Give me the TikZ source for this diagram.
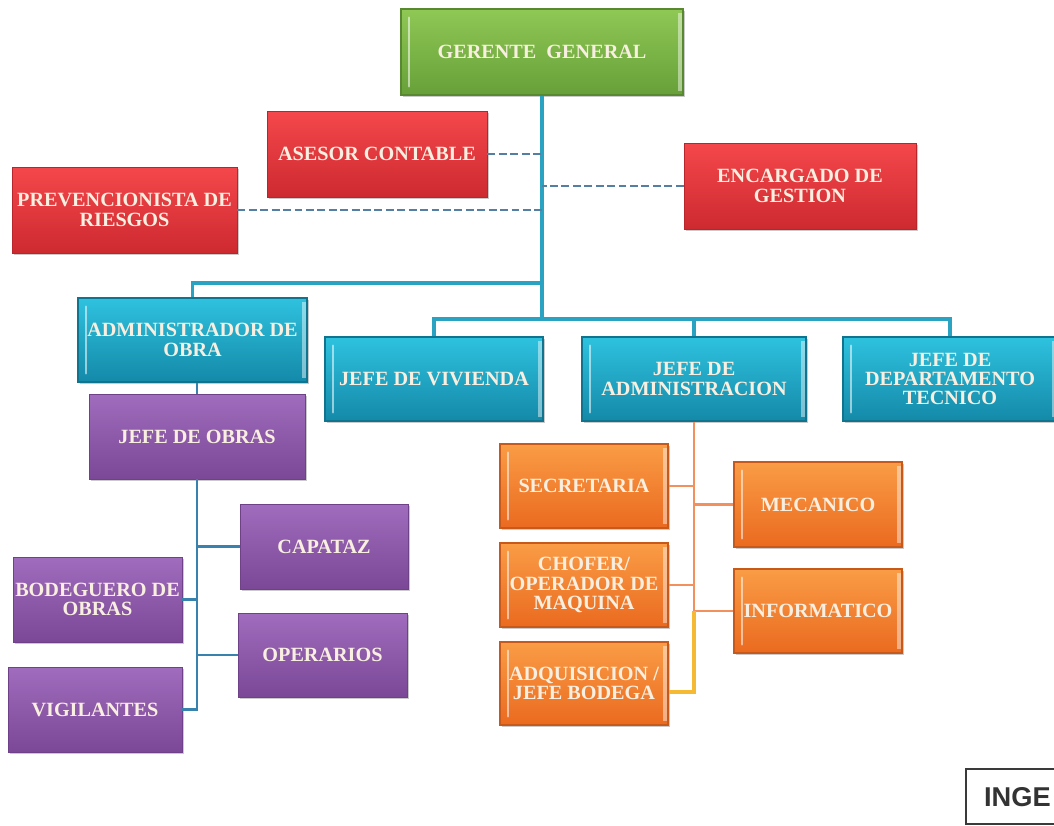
\documentclass[tikz,border=0pt]{standalone}
\usepackage{fontspec}
\setmainfont{Liberation Serif}
\setsansfont{Liberation Sans}
\usetikzlibrary{shadows}
\definecolor{gtop}{HTML}{8FC855}
\definecolor{gbot}{HTML}{67A038}
\definecolor{rtop}{HTML}{F4474B}
\definecolor{rbot}{HTML}{CD2A30}
\definecolor{ttop}{HTML}{2EC2DF}
\definecolor{tbot}{HTML}{1489A8}
\definecolor{ptop}{HTML}{A06CBD}
\definecolor{pbot}{HTML}{7A4897}
\definecolor{otop}{HTML}{FA9C46}
\definecolor{obot}{HTML}{EA6A20}
\definecolor{txt}{HTML}{F8EFE0}
\definecolor{lteal}{HTML}{2AA3C3}
\definecolor{dashc}{HTML}{557EA3}
\definecolor{pblue}{HTML}{3A82AE}
\definecolor{oline}{HTML}{F2905E}
\definecolor{yline}{HTML}{F6B934}
\definecolor{ingec}{HTML}{3A3A3A}
\definecolor{ingetxt}{HTML}{333333}
\begin{document}
\begin{tikzpicture}[x=0.02cm,y=-0.02cm,
  box/.style={rectangle, inner sep=1pt, align=center, text=txt,
    font=\bfseries\fontsize{11.5}{11}\selectfont,
    drop shadow={shadow xshift=1.3pt, shadow yshift=-1.3pt, opacity=0.35, fill=black!60}},
  sz/.style 2 args={minimum width={#1*0.02cm}, minimum height={#2*0.02cm}},
  bevel/.style={path picture={
    \draw[white, opacity=0.55, line width=1.6pt, line cap=round]
      ([xshift=4.5pt,yshift=-5pt]path picture bounding box.north west) --
      ([xshift=4.5pt,yshift=5pt]path picture bounding box.south west);
    \draw[white, opacity=0.45, line width=2pt]
      ([xshift=-1.8pt,yshift=-2pt]path picture bounding box.north east) --
      ([xshift=-1.8pt,yshift=2pt]path picture bounding box.south east);}},
  gbox/.style={box, top color=gtop, bottom color=gbot, draw=gbot!85!black, line width=0.6pt, bevel},
  rbox/.style={box, top color=rtop, bottom color=rbot, draw=rbot!90!black, line width=0.5pt},
  tbox/.style={box, top color=ttop, bottom color=tbot, draw=tbot!85!black, line width=0.6pt, bevel},
  pbox/.style={box, top color=ptop, bottom color=pbot, draw=pbot!90!black, line width=0.5pt},
  obox/.style={box, top color=otop, bottom color=obot, draw=obot!85!black, line width=0.6pt, bevel},
  conn/.style={draw=lteal, line width=1.8pt},
  trunkline/.style={draw=lteal, line width=2.4pt},
  dashline/.style={draw=dashc, line width=1.4pt, dash pattern=on 4.5pt off 2pt},
  pconn/.style={draw=pblue, line width=1.6pt},
  oconn/.style={draw=oline, line width=1.5pt},
  yconn/.style={draw=yline, line width=1.8pt},
  ingebox/.style={draw=ingec, line width=1.3pt, text=ingetxt,
    font=\sffamily\bfseries\fontsize{15.5}{16}\selectfont,
    minimum height={55*0.02cm}, inner xsep=0.36cm, text width=1.38cm, align=left}
]
\useasboundingbox (0,0) rectangle (1054,825);

% top level
\node[gbox, sz={282}{86}] (gg) at (542,52) {GERENTE\ \ GENERAL};
\node[rbox, sz={220}{86}] (ac) at (377,154) {ASESOR CONTABLE};
\node[rbox, sz={225}{86}] (pr) at (124.5,210) {PREVENCIONISTA DE\\RIESGOS};
\node[rbox, sz={232}{86}] (eg) at (800,186) {ENCARGADO DE\\GESTION};

% second level
\node[tbox, sz={229}{84}] (ado) at (192.5,340) {ADMINISTRADOR DE\\OBRA};
\node[tbox, sz={218}{84}] (jv) at (434,379) {JEFE DE VIVIENDA};
\node[tbox, sz={224}{84}] (ja) at (694,379) {JEFE DE\\ADMINISTRACION};
\node[tbox, sz={214}{84}] (jd) at (950,379) {JEFE DE\\DEPARTAMENTO\\TECNICO};

% obras branch
\node[pbox, sz={216}{85}] (jo) at (197,436.5) {JEFE DE OBRAS};
\node[pbox, sz={168}{85}] (cap) at (324,546.5) {CAPATAZ};
\node[pbox, sz={169}{85}] (bod) at (97.5,599.5) {BODEGUERO DE\\OBRAS};
\node[pbox, sz={169}{84}] (ope) at (322.5,655) {OPERARIOS};
\node[pbox, sz={174}{85}] (vig) at (95,709.5) {VIGILANTES};

% administracion branch
\node[obox, sz={168}{84}] (sec) at (584,486) {SECRETARIA};
\node[obox, sz={168}{84}] (cho) at (584,585) {CHOFER/\\OPERADOR DE\\MAQUINA};
\node[obox, sz={168}{83}] (adq) at (584,683.5) {ADQUISICION /\\JEFE BODEGA};
\node[obox, sz={168}{85}] (mec) at (818,504.5) {MECANICO};
\node[obox, sz={168}{84}] (inf) at (818,611) {INFORMATICO};

% stamp
\node[ingebox, anchor=north west] (inge) at (965,768) {INGE};

% connectors
\coordinate (tk) at (542,319);
\coordinate (ab) at (542,283);
\draw[trunkline] (gg.south) -- (tk);
\draw[conn] (ado.north) -- (ado.north |- ab) -- (ab);
\draw[conn] (jv.north) -- (jv.north |- tk) -- (jd.north |- tk) -- (jd.north);
\draw[conn] (ja.north) -- (ja.north |- tk);

\draw[dashline] (ac.east) -- (ac.east -| tk);
\draw[dashline] (pr.east) -- (pr.east -| tk);
\draw[dashline] (eg.west) -- (eg.west -| tk);

\draw[pconn] (jo.north |- ado.south) -- (jo.north);
\draw[pconn] (jo.south) -- (jo.south |- vig.east) -- (vig.east);
\draw[pconn] (jo.south |- cap.west) -- (cap.west);
\draw[pconn] (jo.south |- bod.east) -- (bod.east);
\draw[pconn] (jo.south |- ope.west) -- (ope.west);

\draw[oconn] (ja.south) -- (ja.south |- inf.west);
\draw[oconn] (ja.south |- sec.east) -- (sec.east);
\draw[oconn] (ja.south |- cho.east) -- (cho.east);
\draw[oconn] (ja.south |- mec.west) -- (mec.west);
\draw[oconn] (ja.south |- inf.west) -- (inf.west);
\draw[yconn] (ja.south |- inf.west) -- (ja.south |- 0,692) -- (adq.east |- 0,692);
\end{tikzpicture}
\end{document}
